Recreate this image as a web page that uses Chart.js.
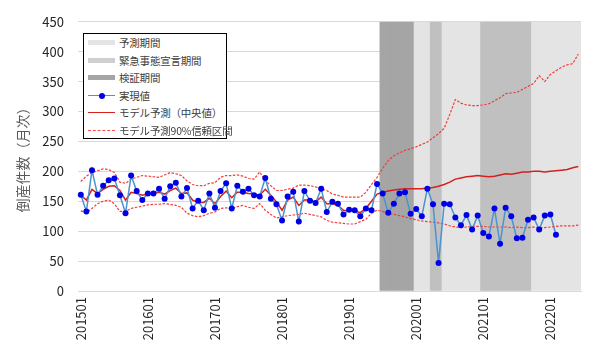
<!DOCTYPE html>
<html lang="ja">
<head>
<meta charset="utf-8">
<script src="https://cdn.jsdelivr.net/npm/chart.js@4.4.0/dist/chart.umd.min.js"></script>
<style>
  body { margin: 0; background: #fff; }
  #wrap { position: relative; width: 600px; height: 351px; }
  #legend {
    position: absolute; left: 83px; top: 33px; width: 144px; height: 106px;
    border: 1px solid #000; background: #fff; box-sizing: border-box;
    font-family: "Noto Sans CJK JP", sans-serif; font-size: 10.5px; color: #404040;
  }
  .row { position: relative; height: 17.6px; white-space: nowrap; }
  .sym { position: absolute; left: 4px; top: 0; width: 27px; height: 17.6px; }
  .txt { position: absolute; left: 35px; top: 0; line-height: 17.6px; letter-spacing: -0.2px; }
  .band { position: absolute; left: 0; width: 27px; top: 6px; height: 5px; }
  .line { position: absolute; left: 0; width: 27px; top: 8px; height: 0; }
  .dot { position: absolute; left: 10.5px; top: 5.8px; width: 6px; height: 6px; border-radius: 50%; background: #0000e6; }
</style>
</head>
<body>
<div id="wrap">
  <canvas id="chart" width="600" height="351"></canvas>
  <div id="legend">
    <div class="row"><div class="sym"><div class="band" style="background:#e4e4e4"></div></div><div class="txt">予測期間</div></div>
    <div class="row"><div class="sym"><div class="band" style="background:#cfcfcf"></div></div><div class="txt">緊急事態宣言期間</div></div>
    <div class="row"><div class="sym"><div class="band" style="background:#a5a5a5"></div></div><div class="txt">検証期間</div></div>
    <div class="row"><div class="sym"><div class="line" style="border-top:1.5px solid #4a93cf"></div><div class="dot"></div></div><div class="txt">実現値</div></div>
    <div class="row"><div class="sym"><div class="line" style="border-top:1.5px solid #d42020"></div></div><div class="txt">モデル予測（中央値）</div></div>
    <div class="row"><div class="sym"><div class="line" style="border-top:1px dashed #ff4a4a"></div></div><div class="txt">モデル予測90%信頼区間</div></div>
  </div>
</div>
<script>
// 月次ラベル 201501 - 202206
const firstMonth = "201501";
const lastMonth = "202206";
const months = [];
for (let y = 2015; y <= 2022; y++) {
  for (let m = 1; m <= 12; m++) {
    const s = `${y}${String(m).padStart(2, "0")}`;
    if (s >= firstMonth && s <= lastMonth) months.push(s);
  }
}

// 期間（背景の帯）
const bandTop = 450;
const forecastPeriods = [["202001", "202206"]];
const emergencyPeriods = [["202004", "202005"], ["202101", "202109"]];
const verificationPeriods = [["201907", "201912"]];

// 実現値
const actual = [
  161, 133, 202, 161, 176, 185, 188, 160, 130, 193, 167, 152,
  163, 163, 171, 154, 175, 181, 158, 172, 138, 151, 135, 163,
  139, 167, 180, 138, 176, 166, 171, 160, 158, 189, 154, 145,
  118, 158, 166, 116, 167, 151, 147, 171, 132, 149, 146, 128,
  136, 135, 125, 138, 135, 179, 163, 131, 146, 163, 165, 129,
  137, 125, 171, 145, 47, 146, 145, 123, 110, 127, 103, 126,
  97, 91, 138, 79, 139, 125, 88, 89, 119, 123, 103, 126,
  128, 94
];

// モデル予測（中央値）
const median = [
  160, 152, 170, 163, 170, 175, 176, 168, 152, 165, 163, 160,
  162, 163, 165, 162, 168, 172, 163, 164, 152, 148, 148, 155,
  146, 158, 167, 156, 165, 165, 163, 162, 160, 170, 160, 149,
  135, 152, 157, 143, 152, 152, 149, 157, 146, 146, 143, 135,
  134, 134, 131, 138, 150, 162, 165, 167, 169, 170, 171, 171,
  171, 171, 172, 173, 175, 178, 182, 187, 189, 191, 192, 193,
  192, 191, 192, 194, 196, 195, 197, 199, 199, 200, 200, 199,
  200, 201, 202, 203, 206, 208
];

// 90%信頼区間 上限
const upper = [
  183, 192, 198, 201, 204, 203, 198, 182, 180, 187, 190, 193,
  192, 191, 190, 194, 198, 196, 193, 184, 178, 176, 176, 180,
  181, 190, 193, 193, 194, 192, 188, 187, 199, 185, 176, 168,
  168, 170, 172, 177, 177, 176, 174, 171, 168, 162, 160, 157,
  157, 157, 157, 165, 178, 190, 205, 218, 226, 231, 235, 238,
  241, 245, 249, 256, 263, 272, 295, 320, 314, 311, 310, 310,
  311, 313, 318, 323, 330, 331, 332, 337, 342, 347, 360, 350,
  362, 368, 374, 378, 380, 396
];

// 90%信頼区間 下限
const lower = [
  134, 131, 138, 146, 150, 152, 146, 133, 133, 138, 140, 142,
  144, 145, 145, 146, 145, 143, 140, 130, 126, 124, 126, 130,
  132, 138, 139, 138, 141, 143, 140, 138, 146, 135, 128, 122,
  124, 126, 127, 128, 130, 128, 126, 124, 118, 115, 114, 113,
  112, 112, 116, 120, 130, 135, 133, 130, 128, 126, 124, 121,
  119, 117, 116, 115, 114, 112, 109, 107, 106, 107, 108, 108,
  108, 107, 107, 107, 107, 106, 107, 106, 106, 107, 106, 106,
  107, 108, 109, 109, 109, 110
];

function bandData(ranges) {
  return months.map((m) => (ranges.some(([a, b]) => m >= a && m <= b) ? bandTop : null));
}

const tickFont = { family: "'Noto Sans CJK JP', sans-serif", size: 13 };

const bandBase = {
  type: "bar",
  grouped: false,
  barPercentage: 1,
  categoryPercentage: 1,
  borderWidth: 0,
};

new Chart(document.getElementById("chart").getContext("2d"), {
  type: "bar",
  data: {
    labels: months,
    datasets: [
      { ...bandBase, label: "予測期間", data: bandData(forecastPeriods), backgroundColor: "#e4e4e4", order: 12 },
      { ...bandBase, label: "緊急事態宣言期間", data: bandData(emergencyPeriods), backgroundColor: "#c0c0c0", order: 11 },
      { ...bandBase, label: "検証期間", data: bandData(verificationPeriods), backgroundColor: "#a5a5a5", order: 10 },
      {
        type: "line", label: "モデル予測90%信頼区間", data: upper,
        borderColor: "#f23c3c", borderWidth: 1.2, borderDash: [2.5, 1.5], pointRadius: 0, tension: 0, order: 4,
      },
      {
        type: "line", label: "モデル予測90%信頼区間", data: lower,
        borderColor: "#f23c3c", borderWidth: 1.2, borderDash: [2.5, 1.5], pointRadius: 0, tension: 0, order: 4,
      },
      {
        type: "line", label: "モデル予測（中央値）", data: median,
        borderColor: "#d42020", borderWidth: 1.5, pointRadius: 0, tension: 0, order: 3,
      },
      {
        type: "line", label: "実現値", data: actual,
        borderColor: "#4a93cf", borderWidth: 1.5, tension: 0,
        pointRadius: 3, pointBackgroundColor: "#0000e6", pointBorderColor: "#0000e6", pointBorderWidth: 0,
        order: 1,
      },
    ],
  },
  options: {
    responsive: false,
    animation: false,
    devicePixelRatio: 1,
    layout: { padding: { left: 0, right: 15, top: 15, bottom: 0 } },
    plugins: {
      legend: { display: false },
      tooltip: { enabled: false },
    },
    scales: {
      x: {
        grid: { display: false, drawTicks: false },
        border: { color: "#d9d9d9" },
        ticks: {
          autoSkip: false,
          minRotation: 90,
          maxRotation: 90,
          padding: 6,
          color: "#262626",
          font: tickFont,
          callback: function (value, index) {
            return index % 12 === 0 ? this.getLabelForValue(value) : "";
          },
        },
        afterFit: (axis) => { axis.height = 60; },
      },
      y: {
        min: 0,
        max: 450,
        ticks: { stepSize: 50, padding: 14, color: "#262626", font: tickFont },
        grid: { color: "#d9d9d9", drawTicks: false },
        border: { display: false },
        title: {
          display: true,
          text: "倒産件数（月次）",
          color: "#595959",
          font: { family: "'Noto Sans CJK JP', sans-serif", size: 14 },
          padding: { top: 14, bottom: 0 },
        },
        afterFit: (axis) => { axis.width = 78; },
      },
    },
  },
});
</script>
</body>
</html>
